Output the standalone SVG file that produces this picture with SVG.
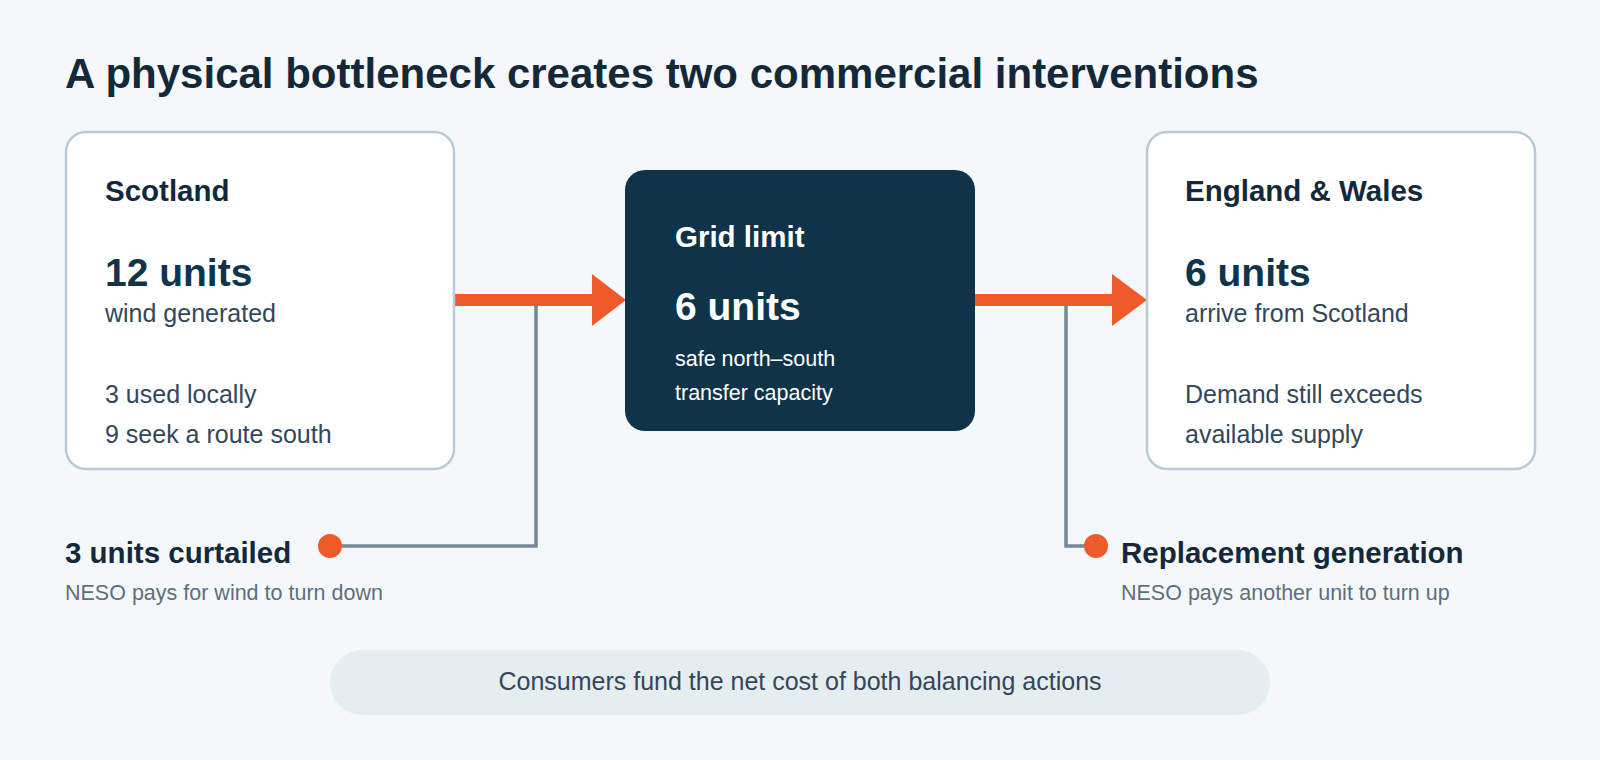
<svg xmlns="http://www.w3.org/2000/svg" width="1600" height="760" viewBox="0 0 1600 760">
<style>
text{font-family:"Liberation Sans",Arial,sans-serif}
.card{fill:#fff;stroke:#b9cad6;stroke-width:2.5}
.h{font-size:29.5px;font-weight:bold;fill:#13293a}
.big{font-size:39px;font-weight:bold;fill:#10344b}
.t{font-size:25px;fill:#33475a}
.w{fill:#fff}
.lbl{font-size:29.5px;font-weight:bold;fill:#13293a}
.sub{font-size:21.5px;fill:#5e6f7c}
.conn{fill:none;stroke:#748896;stroke-width:3.5}
.dot{fill:#ef5a2a}
.arr{fill:#ef5a2a}
</style>
<rect width="1600" height="760" fill="#f4f8fb"/>
<text x="65" y="88" font-size="42" font-weight="bold" fill="#13293a">A physical bottleneck creates two commercial interventions</text>
<g id="connectors">
<path class="conn" d="M536 300 V546 H342"/>
<circle class="dot" cx="330" cy="546" r="12"/>
<path class="conn" d="M1066 300 V546 H1085"/>
<circle class="dot" cx="1096" cy="546" r="12"/>
<polygon class="arr" points="455,294 592,294 592,274 626,300 592,326 592,306 455,306"/>
<polygon class="arr" points="975,294 1112,294 1112,274 1147,300 1112,326 1112,306 975,306"/>
</g>
<g id="scotland">
<rect class="card" x="66" y="132" width="388" height="337" rx="20"/>
<text class="h" x="105" y="201">Scotland</text>
<text class="big" x="105" y="286">12 units</text>
<text class="t" x="105" y="322">wind generated</text>
<text class="t" x="105" y="403">3 used locally</text>
<text class="t" x="105" y="443">9 seek a route south</text>
</g>
<g id="grid">
<rect x="625" y="170" width="350" height="261" rx="20" fill="#0f3349"/>
<text class="h w" x="675" y="247">Grid limit</text>
<text class="big w" x="675" y="320">6 units</text>
<text class="w" x="675" y="366" font-size="21.5">safe north–south</text>
<text class="w" x="675" y="400" font-size="21.5">transfer capacity</text>
</g>
<g id="england">
<rect class="card" x="1147" y="132" width="388" height="337" rx="20"/>
<text class="h" x="1185" y="201">England &amp; Wales</text>
<text class="big" x="1185" y="286">6 units</text>
<text class="t" x="1185" y="322">arrive from Scotland</text>
<text class="t" x="1185" y="403">Demand still exceeds</text>
<text class="t" x="1185" y="443">available supply</text>
</g>
<g id="curtailed">
<text class="lbl" x="65" y="563">3 units curtailed</text>
<text class="sub" x="65" y="600">NESO pays for wind to turn down</text>
</g>
<g id="replacement">
<text class="lbl" x="1121" y="563">Replacement generation</text>
<text class="sub" x="1121" y="600">NESO pays another unit to turn up</text>
</g>
<g id="consumers">
<rect x="330" y="650" width="940" height="65" rx="32.5" fill="#e6edf1"/>
<text x="800" y="690" font-size="25" fill="#33475a" text-anchor="middle">Consumers fund the net cost of both balancing actions</text>
</g>
</svg>
